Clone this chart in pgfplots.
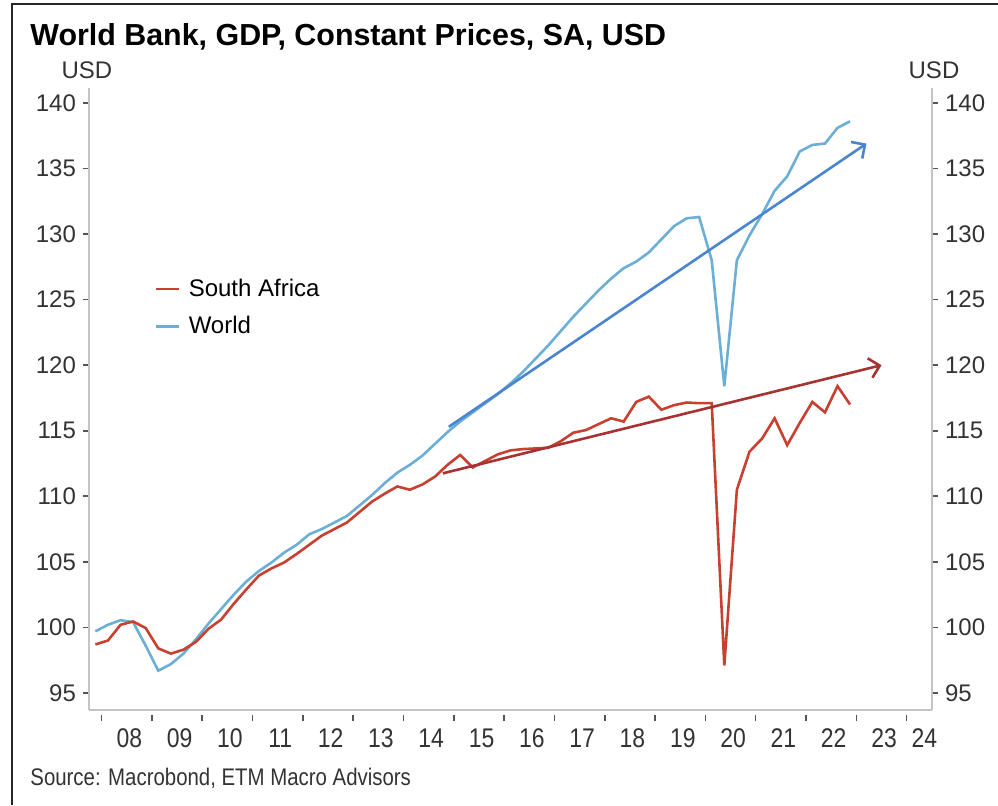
\documentclass[border=0pt]{standalone}
\usepackage{pgfplots}
\pgfplotsset{compat=1.18}
\usepackage{pgfplotstable}
\usepackage{fontspec}
\setmainfont{Liberation Sans}
\newfontfamily\narrowfont[FakeStretch=0.85]{Liberation Sans}
\usetikzlibrary{arrows.meta}
\definecolor{sared}{HTML}{C8402F}
\definecolor{wblue}{HTML}{6BAED6}
\definecolor{arrblue}{HTML}{4A86CF}
\definecolor{arrred}{HTML}{A83232}
\definecolor{axgray}{HTML}{C4C4C4}
\definecolor{tickgray}{HTML}{555555}

\pgfplotstableread{
x sa world
2007.875 98.7 99.7
2008.125 99.0 100.2
2008.375 100.2 100.55
2008.625 100.45 100.4
2008.875 99.95 98.6
2009.125 98.4 96.7
2009.375 98.0 97.2
2009.625 98.3 98.0
2009.875 98.9 99.1
2010.125 99.9 100.3
2010.375 100.6 101.4
2010.625 101.8 102.5
2010.875 102.9 103.5
2011.125 103.95 104.3
2011.375 104.5 104.95
2011.625 104.95 105.7
2011.875 105.6 106.3
2012.125 106.3 107.1
2012.375 107.0 107.5
2012.625 107.5 108.0
2012.875 108.0 108.5
2013.125 108.8 109.3
2013.375 109.6 110.1
2013.625 110.2 111.0
2013.875 110.75 111.8
2014.125 110.5 112.4
2014.375 110.9 113.1
2014.625 111.5 114.0
2014.875 112.4 114.9
2015.125 113.15 115.7
2015.375 112.2 116.4
2015.625 112.7 117.1
2015.875 113.2 117.8
2016.125 113.5 118.6
2016.375 113.6 119.5
2016.625 113.65 120.5
2016.875 113.7 121.5
2017.125 114.2 122.6
2017.375 114.85 123.7
2017.625 115.05 124.7
2017.875 115.5 125.7
2018.125 115.95 126.6
2018.375 115.7 127.4
2018.625 117.2 127.9
2018.875 117.6 128.6
2019.125 116.6 129.6
2019.375 116.95 130.6
2019.625 117.15 131.2
2019.875 117.1 131.3
2020.125 117.1 128.0
2020.375 97.1 118.4
2020.625 110.5 128.0
2020.875 113.4 129.9
2021.125 114.4 131.5
2021.375 115.95 133.3
2021.625 113.9 134.4
2021.875 115.6 136.3
2022.125 117.2 136.8
2022.375 116.4 136.9
2022.625 118.4 138.1
2022.875 117.0 138.6
}\gdpdata

\begin{document}
\begin{tikzpicture}[x=1pt,y=1pt]
\useasboundingbox (0pt,0pt) rectangle (499pt,402.5pt);
\draw[black!85, line width=1pt] (5.8pt,0pt) -- (5.8pt,400.5pt) -- (499pt,400.5pt);
\pgfplotsset{
  commonaxis/.style={
    at={(44.5pt,47.5pt)}, anchor=south west, scale only axis,
    width=421.5pt, height=311pt,
    xmin=2007.748, xmax=2024.503, ymin=93.70, ymax=141.14,
    axis line style={axgray, line width=1pt, -},
    ytick={95,100,...,140},
    tick align=outside,
    major tick length=3pt,
    y tick style={tickgray, line width=0.8pt},
    yticklabel style={font=\fontsize{12}{14}\selectfont, text=black!80},
    /pgf/number format/assume math mode=true,
  }
}
\begin{axis}[commonaxis,
  axis x line*=bottom, axis y line*=left,
  xtick={2008.55,2009.55,2010.55,2011.55,2012.55,2013.55,2014.55,2015.55,2016.55,2017.55,2018.55,2019.55,2020.55,2021.55,2022.55,2023.55,2024.35},
  xticklabels={08,09,10,11,12,13,14,15,16,17,18,19,20,21,22,23,24},
  minor xtick={2008,2009,...,2024},
  major x tick style={draw=none},
  minor x tick style={tickgray, line width=0.8pt, yshift=-2.5pt},
  minor tick length=3pt,
  xticklabel style={font=\narrowfont\fontsize{13.5}{15}\selectfont, text=black!80, yshift=-3pt},
  legend style={at={(0.078,0.70)}, anchor=north west, draw=none, fill=none,
    font=\fontsize{12}{14}\selectfont, row sep=4.5pt, cells={anchor=west}, inner sep=0pt,
    /tikz/every odd column/.append style={column sep=2pt}},
  legend image code/.code={\draw[#1, line width=1.3pt] (0pt,0pt) -- (11.5pt,0pt);},
  clip=false,
]
\addplot[wblue, line width=1.3pt, forget plot] table[x=x,y=world]{\gdpdata};
\addplot[sared, line width=1.3pt, forget plot] table[x=x,y=sa]{\gdpdata};
\addplot[arrblue, line width=1.3pt, -{Straight Barb[length=5pt,width=10pt]}, forget plot] coordinates {(2014.9,115.3) (2023.2,136.9)};
\addplot[arrred, line width=1.3pt, -{Straight Barb[length=5pt,width=10pt]}, forget plot] coordinates {(2014.78,111.75) (2023.5,120.0)};
\addlegendimage{sared}
\addlegendentry{South Africa}
\addlegendimage{wblue}
\addlegendentry{World}
\end{axis}
\begin{axis}[commonaxis,
  axis y line*=right, axis x line=none,
]
\end{axis}
\node[anchor=west, inner sep=0pt, font=\bfseries\fontsize{15.2}{18}\selectfont] at (15pt,384pt) {World Bank, GDP, Constant Prices, SA, USD};
\node[font=\fontsize{12}{14}\selectfont, text=black!80] at (43.5pt,367.5pt) {USD};
\node[font=\fontsize{12}{14}\selectfont, text=black!80] at (467pt,367.5pt) {USD};
\node[anchor=west, inner sep=0pt, font=\narrowfont\fontsize{12}{14}\selectfont, text=black!80] at (15pt,13.5pt) {Source: Macrobond, ETM Macro Advisors};
\end{tikzpicture}
\end{document}
